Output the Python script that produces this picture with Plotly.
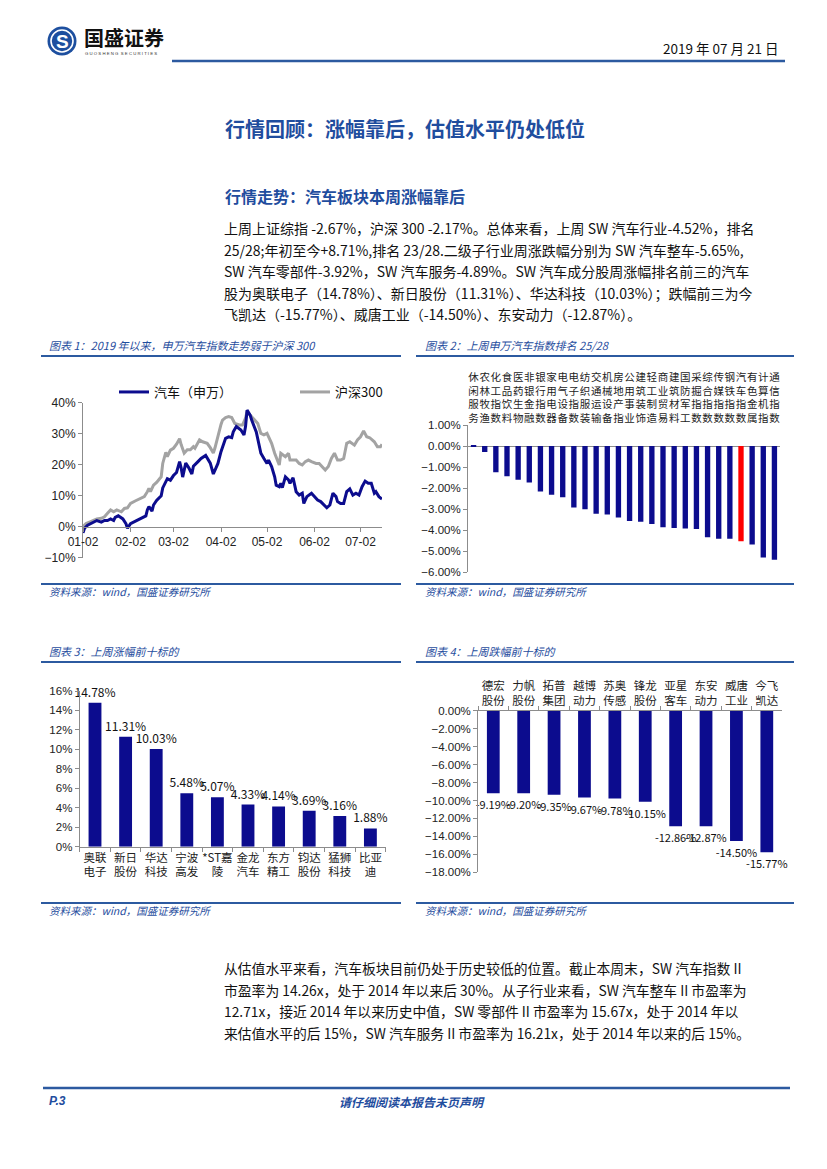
import plotly.graph_objects as go
import pandas as pd

W, H = 827, 1169
def px(x): return x / W
def py(y): return 1 - y / H

CJK = "Noto Sans CJK SC"
LAT = "Liberation Sans"
BLUE_T = "#1f4d9e"
NAVY = "#0c0c8e"
RED = "#ff0000"
GRAYL = "#a3a3a3"
AX = "#8c8c8c"

# ---------------- data ----------------
# Chart 1: cumulative change since 2019-01-02 (day offsets, %)
base_date = "2019-01-02"
days_auto = [0, 1, 3, 5, 7, 9, 12, 14, 16, 18, 20, 21, 23, 26, 28, 29, 31, 34, 37, 41, 42, 43, 45, 46, 48,
             51, 52, 55, 57, 59, 61, 63, 64, 65, 67, 69, 71, 72, 75, 77, 80, 82, 83, 85, 87, 88, 90, 93,
             95, 97, 98, 100, 103, 105, 106, 107, 109, 110, 113, 114, 116, 118, 120, 121, 123, 125, 126,
             128, 129, 130, 132, 134, 135, 137, 139, 141, 143, 144, 146, 149, 151, 153, 155, 157, 159,
             161, 163, 165, 166, 168, 170, 172, 174, 176, 178, 180, 182, 184, 186, 188, 190, 191, 193, 195]
auto_pct = [-2.0, -0.5, 0.5, 1.0, 1.5, 2.0, 1.5, 2.0, 2.0, 2.5, 2.0, 3.0, 3.5, 2.5, 1.0, -0.5, 1.0, 1.8,
            2.5, 3.5, 5.5, 6.5, 5.0, 7.0, 8.5, 10.0, 12.5, 15.5, 15.0, 16.5, 17.5, 21.0, 19.0, 16.0, 20.5,
            19.0, 17.0, 19.5, 21.0, 22.0, 23.0, 21.5, 20.5, 17.0, 19.5, 20.4, 24.2, 28.5, 29.0, 28.7, 30.6,
            32.3, 31.2, 29.6, 32.3, 37.6, 36.0, 34.4, 30.6, 28.5, 23.7, 22.0, 20.4, 21.5, 19.4, 16.1, 13.4,
            12.9, 14.0, 12.6, 16.1, 15.1, 14.0, 15.8, 11.3, 10.2, 10.8, 7.5, 9.7, 10.8, 9.7, 8.6, 8.1, 7.0,
            6.1, 7.0, 10.8, 9.7, 8.1, 7.5, 7.5, 11.3, 12.2, 10.2, 10.8, 10.2, 12.9, 14.7, 14.0, 14.0, 10.8,
            11.3, 9.7, 8.9]
days_hs300 = [0, 2, 5, 9, 12, 14, 16, 18, 20, 22, 25, 27, 29, 31, 34, 37, 40, 42, 43, 44, 46, 48, 51, 52,
              54, 55, 57, 59, 61, 63, 64, 66, 68, 70, 72, 73, 75, 76, 78, 81, 83, 85, 86, 88, 90, 91, 93,
              95, 97, 99, 102, 104, 106, 107, 109, 112, 114, 116, 118, 120, 123, 125, 126, 128, 129, 132,
              134, 135, 137, 139, 141, 143, 145, 147, 149, 152, 154, 156, 158, 160, 162, 164, 166, 168,
              170, 172, 174, 177, 179, 181, 183, 185, 187, 190, 192, 194, 195]
hs300_pct = [0.0, 1.0, 1.6, 2.5, 2.7, 3.2, 4.3, 5.4, 4.8, 5.4, 4.8, 5.9, 6.1, 7.5, 8.3, 8.9, 9.7, 11.3,
             12.4, 11.3, 13.4, 14.3, 16.1, 20.4, 24.0, 22.6, 24.7, 25.3, 26.6, 28.4, 26.5, 23.7, 24.8, 24.8,
             25.8, 25.3, 27.4, 28.0, 27.4, 26.9, 25.5, 23.8, 25.3, 29.6, 33.0, 34.4, 35.2, 35.5, 35.2, 33.3,
             32.8, 32.8, 35.0, 37.1, 36.0, 34.4, 33.3, 30.1, 29.6, 30.1, 26.9, 23.7, 22.6, 19.9, 23.7, 22.6,
             23.7, 21.5, 21.5, 21.5, 20.4, 19.9, 21.0, 21.5, 21.0, 20.4, 20.4, 19.4, 18.3, 19.4, 22.0, 23.7,
             21.5, 21.5, 22.0, 26.9, 27.4, 26.3, 28.0, 29.0, 30.9, 29.0, 28.7, 27.4, 25.8, 25.8, 26.6]
month_tick_dates = ["2019-01-02", "2019-02-02", "2019-03-02", "2019-04-02", "2019-05-02", "2019-06-02", "2019-07-02"]
month_tick_text = ["01-02", "02-02", "03-02", "04-02", "05-02", "06-02", "07-02"]
series1_names = ["汽车（申万）", "沪深300"]

# Chart 2: weekly change of SW industry indices (%)
industries = ["休闲服务", "农林牧渔", "化工指数", "食品饮料", "医药生物", "非银金融", "银行指数",
              "家用电器", "电气设备", "电子指数", "纺织服装", "交通运输", "机械设备", "房地产指",
              "公用事业", "建筑装饰", "轻工制造", "商业贸易", "建筑材料", "国防军工", "采掘指数",
              "综合指数", "传媒指数", "钢铁指数", "汽车指数", "有色金属", "计算机指", "通信指数"]
industry_chg = [0.01, -0.28, -1.24, -1.43, -1.60, -1.73, -2.16, -2.32, -2.43, -2.92, -3.00, -3.22, -3.25,
                -3.40, -3.56, -3.60, -3.71, -3.86, -3.89, -3.92, -3.94, -4.33, -4.40, -4.41, -4.52,
                -4.68, -5.30, -5.40]
highlight = "汽车指数"

# Chart 3: top 10 gainers
gainers = ["奥联<br>电子", "新日<br>股份", "华达<br>科技", "宁波<br>高发", "*ST嘉<br>陵",
           "金龙<br>汽车", "东方<br>精工", "钧达<br>股份", "猛狮<br>科技", "比亚<br>迪"]
gain_pct = [14.78, 11.31, 10.03, 5.48, 5.07, 4.33, 4.14, 3.69, 3.16, 1.88]

# Chart 4: top 10 losers
losers = ["德宏<br>股份", "力帆<br>股份", "拓普<br>集团", "越博<br>动力", "苏奥<br>传感",
          "锋龙<br>股份", "亚星<br>客车", "东安<br>动力", "威唐<br>工业", "今飞<br>凯达"]
loss_pct = [-9.19, -9.20, -9.35, -9.67, -9.78, -10.15, -12.86, -12.87, -14.50, -15.77]

# ---------------- figure ----------------
fig = go.Figure()

dates_auto = pd.Timestamp(base_date) + pd.to_timedelta(days_auto, unit="D")
dates_hs = pd.Timestamp(base_date) + pd.to_timedelta(days_hs300, unit="D")

fig.add_trace(go.Scatter(x=dates_hs, y=hs300_pct, mode="lines", name=series1_names[1],
                         line=dict(color=GRAYL, width=3), xaxis="x", yaxis="y"))
fig.add_trace(go.Scatter(x=dates_auto, y=auto_pct, mode="lines", name=series1_names[0],
                         line=dict(color=NAVY, width=3), xaxis="x", yaxis="y"))

ind_labels = ["<br>".join(list(n)) for n in industries]
fig.add_trace(go.Bar(x=ind_labels, y=industry_chg, xaxis="x2", yaxis="y2", showlegend=False,
                     marker=dict(color=[RED if n == highlight else NAVY for n in industries], line=dict(width=0)),
                     width=0.48))

fig.add_trace(go.Bar(x=gainers, y=gain_pct, xaxis="x3", yaxis="y3", showlegend=False,
                     marker=dict(color=NAVY, line=dict(width=0)), width=0.42,
                     texttemplate="%{y:.2f}%", textposition="outside", constraintext="none",
                     cliponaxis=False, textfont=dict(family=CJK, size=12, color="#111")))

fig.add_trace(go.Bar(x=losers, y=loss_pct, xaxis="x4", yaxis="y4", showlegend=False,
                     marker=dict(color=NAVY, line=dict(width=0)), width=0.42,
                     texttemplate="%{y:.2f}%", textposition="outside", constraintext="none",
                     cliponaxis=False, textfont=dict(family=CJK, size=11, color="#111")))

# domains (pixel boxes)
d1x = [px(83), px(382)]; d1y = [py(557.7), py(402.7)]
d2x = [px(468), px(780)]; d2y = [py(572.3), py(425)]
d3x = [px(79.7), px(385.7)]; d3y = [py(846.7), py(691)]
d4x = [px(478.1), px(782)]; d4y = [py(872.3), py(710.7)]

y1_range = [-10, 40]
zero_pos = d1y[0] + (0 - y1_range[0]) / (y1_range[1] - y1_range[0]) * (d1y[1] - d1y[0])

tickf = dict(family=LAT, size=11.5, color="#222")
cjk_tick = dict(family=CJK, size=11.5, color="#222")
common_ax = dict(showgrid=False, linecolor=AX, linewidth=1, tickcolor=AX, ticks="outside", ticklen=4,
                 automargin=False)

fig.update_layout(
    width=W, height=H, autosize=False, margin=dict(l=0, r=0, t=0, b=0, autoexpand=False),
    paper_bgcolor="white", plot_bgcolor="rgba(0,0,0,0)", bargap=0.5,
    font=dict(family=CJK, color="#111"),
    showlegend=True,
    legend=dict(orientation="h", x=px(114), y=py(377), xanchor="left", yanchor="top",
                font=dict(family=CJK, size=13, color="#111"), bgcolor="rgba(0,0,0,0)",
                traceorder="reversed", itemwidth=30, entrywidth=136),
    xaxis=dict(domain=d1x, anchor="free", position=zero_pos, type="date",
               range=[dates_auto[0], dates_auto[-1]], tickvals=pd.to_datetime(month_tick_dates),
               ticktext=month_tick_text, showline=True, tickfont=dict(family=LAT, size=12, color="#222"),
               **common_ax),
    yaxis=dict(domain=d1y, anchor="x", range=y1_range, dtick=10, ticksuffix="%", showline=True,
               zeroline=False, tickfont=dict(family=LAT, size=12, color="#222"), **common_ax),
    xaxis2=dict(domain=d2x, anchor="y2", side="top", showline=False, ticks="", showgrid=False,
                tickmode="linear", tick0=0, dtick=1, automargin=False,
                tickfont=dict(family=CJK, size=10.5, color="#222"), tickangle=0),
    yaxis2=dict(domain=d2y, anchor="x2", range=[-6, 1], dtick=1, tickformat=".2f", ticksuffix="%",
                showline=True, zeroline=True, zerolinecolor=AX, zerolinewidth=1,
                tickfont=tickf, **common_ax),
    xaxis3=dict(domain=d3x, anchor="y3", showline=True, tickson="boundaries", tickfont=cjk_tick,
                tickangle=0, **common_ax),
    yaxis3=dict(domain=d3y, anchor="x3", range=[0, 16], dtick=2, ticksuffix="%", showline=True,
                zeroline=False, tickfont=tickf, **common_ax),
    xaxis4=dict(domain=d4x, anchor="y4", side="top", showline=True, tickson="boundaries",
                tickfont=cjk_tick, tickangle=0, **common_ax),
    yaxis4=dict(domain=d4y, anchor="x4", range=[-18, 0], dtick=2, tickformat=".2f", ticksuffix="%",
                showline=True, zeroline=False, tickfont=tickf, **common_ax),
)

ann = []
shapes = []

def txt(x, y, s, size, color="#111", xanchor="left", family=CJK, weight="normal", style="normal"):
    ann.append(dict(x=px(x), y=py(y), xref="paper", yref="paper", text=s, showarrow=False,
                    xanchor=xanchor, yanchor="middle", align="left",
                    font=dict(family=family, size=size, color=color, weight=weight, style=style)))

def hline(x0, x1, y, color="#2c5aa0", width=2):
    shapes.append(dict(type="line", xref="paper", yref="paper", x0=px(x0), x1=px(x1), y0=py(y), y1=py(y),
                       line=dict(color=color, width=width)))

# header
shapes.append(dict(type="circle", xref="paper", yref="paper", x0=px(47.5), x1=px(76.5), y0=py(55.5), y1=py(26.5),
                   fillcolor="#1d4f9f", line=dict(width=0)))
shapes.append(dict(type="circle", xref="paper", yref="paper", x0=px(51), x1=px(73), y0=py(52), y1=py(30),
                   fillcolor="rgba(0,0,0,0)", line=dict(color="white", width=1.6)))
txt(62, 41.5, "S", 19, "white", "center", LAT, "bold")
txt(82, 37.5, "国盛证券", 20, "#111", "left", CJK, "bold")
txt(83, 54, "G U O S H E N G  S E C U R I T I E S", 4.3, "#333", "left", LAT)
txt(781, 48, "2019 年 07 月 21 日", 13.5, "#111", "right", CJK)
hline(172, 785, 61, "#2c5aa0", 2.5)

# titles
txt(223, 128, "行情回顾：涨幅靠后，估值水平仍处低位", 20, BLUE_T, "left", CJK, "bold")
txt(223, 196, "行情走势：汽车板块本周涨幅靠后", 16, BLUE_T, "left", CJK, "bold")

para1 = ["上周上证综指 -2.67%，沪深 300 -2.17%。总体来看，上周 SW 汽车行业-4.52%，排名",
         "25/28;年初至今+8.71%,排名 23/28.二级子行业周涨跌幅分别为 SW 汽车整车-5.65%,",
         "SW 汽车零部件-3.92%，SW 汽车服务-4.89%。SW 汽车成分股周涨幅排名前三的汽车",
         "股为奥联电子（14.78%）、新日股份（11.31%）、华达科技（10.03%）；跌幅前三为今",
         "飞凯达（-15.77%）、威唐工业（-14.50%）、东安动力（-12.87%）。"]
for i, s in enumerate(para1):
    txt(222, 228 + i * 21.6, s, 14)

para2 = ["从估值水平来看，汽车板块目前仍处于历史较低的位置。截止本周末，SW 汽车指数 II",
         "市盈率为 14.26x，处于 2014 年以来后 30%。从子行业来看，SW 汽车整车 II 市盈率为",
         "12.71x，接近 2014 年以来历史中值，SW 零部件 II 市盈率为 15.67x，处于 2014 年以",
         "来估值水平的后 15%，SW 汽车服务 II 市盈率为 16.21x，处于 2014 年以来的后 15%。"]
for i, s in enumerate(para2):
    txt(222, 968 + i * 21.5, s, 13.8)

# chart boxes
chart_titles = [(47, 345, "图表 1：2019 年以来，申万汽车指数走势弱于沪深 300"),
                (423, 345, "图表 2：上周申万汽车指数排名 25/28"),
                (47, 651, "图表 3：上周涨幅前十标的"),
                (423, 651, "图表 4：上周跌幅前十标的")]
for x, y, s in chart_titles:
    txt(x, y, s, 11, BLUE_T, "left", CJK, "normal", "italic")
for x0, x1 in [(41, 401), (416, 794)]:
    hline(x0, x1, 356, "#2c5aa0", 1.8)
    hline(x0, x1, 584, "#2c5aa0", 1.8)
    hline(x0, x1, 662, "#2c5aa0", 1.8)
    hline(x0, x1, 903, "#2c5aa0", 1.8)
for x in (47, 423):
    txt(x, 591, "资料来源：wind，国盛证券研究所", 10.5, BLUE_T, "left", CJK, "normal", "italic")
    txt(x, 910, "资料来源：wind，国盛证券研究所", 10.5, BLUE_T, "left", CJK, "normal", "italic")

# footer
hline(43, 790, 1088, "#2c5aa0", 2.5)
txt(47, 1101, "P.3", 12, BLUE_T, "left", LAT, "bold", "italic")
txt(412, 1101, "请仔细阅读本报告末页声明", 12, BLUE_T, "center", CJK, "bold", "italic")

fig.update_layout(annotations=ann, shapes=shapes)

fig.write_html("out.html", config={"displayModeBar": False},
               post_script="document.body.style.margin='0';")
